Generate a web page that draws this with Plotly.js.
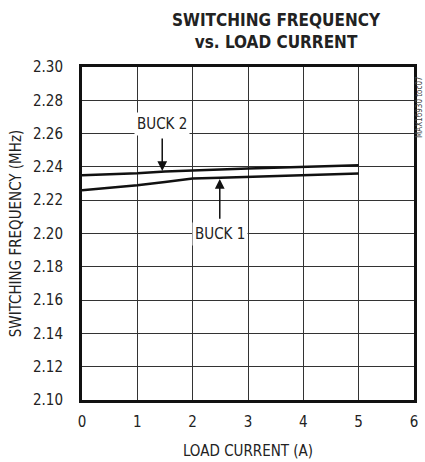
<!DOCTYPE html>
<html>
<head>
<meta charset="utf-8">
<script src="https://cdn.plot.ly/plotly-3.0.1.min.js"></script>
<style>html,body{margin:0;padding:0;background:#fff;}#chart{width:425px;height:462px;}</style>
</head>
<body>
<div id="chart"></div>
<script>
const loadCurrent = [0, 0.5, 1, 1.5, 2, 2.5, 3, 3.5, 4, 4.5, 5];
const buck1 = [2.226, 2.2275, 2.229, 2.231, 2.233, 2.2335, 2.234, 2.2345, 2.235, 2.2355, 2.236];
const buck2 = [2.235, 2.2355, 2.2362, 2.2372, 2.238, 2.2385, 2.239, 2.2395, 2.240, 2.2405, 2.241];
const xTicks = [0, 1, 2, 3, 4, 5, 6];
const yTicks = [2.10, 2.12, 2.14, 2.16, 2.18, 2.20, 2.22, 2.24, 2.26, 2.28, 2.30];
const labels = ["BUCK 1", "BUCK 2"];

const FONT = "'Liberation Sans Narrow', 'DejaVu Sans Condensed', Arial, sans-serif";

const traces = [
  {x: loadCurrent, y: buck2, mode: 'lines', line: {color: '#111', width: 2.5}, name: labels[1], hoverinfo: 'skip'},
  {x: loadCurrent, y: buck1, mode: 'lines', line: {color: '#111', width: 2.5}, name: labels[0], hoverinfo: 'skip'}
];

const layout = {
  width: 425, height: 462,
  margin: {l: 82, r: 11, t: 67, b: 62},
  paper_bgcolor: '#fff', plot_bgcolor: '#fff',
  showlegend: false,
  font: {family: FONT, size: 14, color: '#222'},
  xaxis: {
    range: [0, 6], tickvals: xTicks, ticktext: xTicks.map(String),
    showgrid: true, gridcolor: '#333', gridwidth: 1,
    zeroline: false, showline: true, mirror: true, linecolor: '#111', linewidth: 3,
    ticks: '', ticklabelstandoff: 6,
    tickfont: {family: FONT, size: 15, color: '#222'},
    title: {text: 'LOAD CURRENT (A)', font: {family: FONT, size: 15, color: '#222'}, standoff: 16}
  },
  yaxis: {
    range: [2.10, 2.30], tickvals: yTicks, ticktext: yTicks.map(v => v.toFixed(2)),
    showgrid: true, gridcolor: '#333', gridwidth: 1,
    zeroline: false, showline: true, mirror: true, linecolor: '#111', linewidth: 3,
    ticks: '', ticklabelstandoff: 13,
    tickfont: {family: FONT, size: 15, color: '#222'},
    title: {text: 'SWITCHING FREQUENCY (MHz)', font: {family: FONT, size: 15, color: '#222'}, standoff: 8}
  },
  annotations: [
    {x: 0.585, y: 1, xref: 'paper', yref: 'paper', yshift: 59, xanchor: 'center', yanchor: 'top',
     text: '<b>SWITCHING FREQUENCY<br>vs. LOAD CURRENT</b>', showarrow: false,
     font: {family: FONT, size: 17, color: '#222'}},
    {x: 1.45, y: 2.2375, xref: 'x', yref: 'y', ax: 1.45, ay: 2.258, axref: 'x', ayref: 'y',
     showarrow: true, arrowhead: 2, arrowsize: 1.3, arrowwidth: 1.5, arrowcolor: '#111', text: ''},
    {x: 1.45, y: 2.266, xref: 'x', yref: 'y', text: labels[1], showarrow: false,
     bgcolor: '#fff', borderpad: 2, font: {family: FONT, size: 15, color: '#222'}},
    {x: 2.49, y: 2.2328, xref: 'x', yref: 'y', ax: 2.49, ay: 2.208, axref: 'x', ayref: 'y',
     showarrow: true, arrowhead: 2, arrowsize: 1.3, arrowwidth: 1.5, arrowcolor: '#111', text: ''},
    {x: 2.49, y: 2.200, xref: 'x', yref: 'y', text: labels[0], showarrow: false,
     bgcolor: '#fff', borderpad: 2, font: {family: FONT, size: 15, color: '#222'}},
    {x: 1, y: 0.88, xref: 'paper', yref: 'paper', xanchor: 'center', yanchor: 'middle', xshift: 6,
     text: 'MAX16930 toc07', showarrow: false, textangle: -90,
     font: {family: FONT, size: 8, color: '#444'}}
  ]
};

Plotly.newPlot('chart', traces, layout, {displayModeBar: false, staticPlot: true});
</script>
</body>
</html>
